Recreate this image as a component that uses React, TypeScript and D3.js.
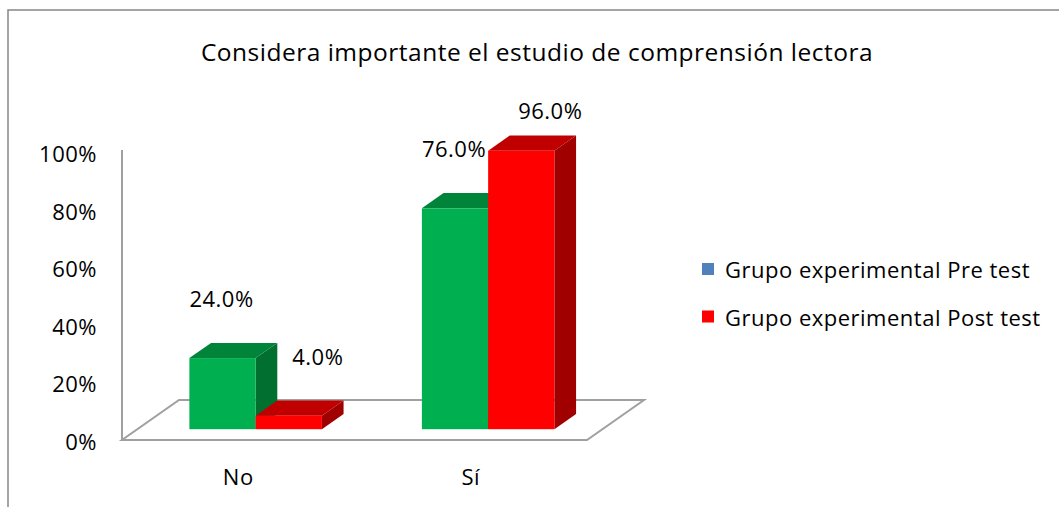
import React from 'react';
import * as d3 from 'd3';

// chart data
const categories = ['No', 'Sí'];
const seriesNames = ['Grupo experimental Pre test', 'Grupo experimental Post test'];
const preTest = [0.24, 0.76];
const postTest = [0.04, 0.96];
const yTicks = [0, 0.2, 0.4, 0.6, 0.8, 1];

const W = 1059;
const H = 507;
const FONT = '"Open Sans", "Noto Sans", sans-serif';
const LS = 0.5; // letter spacing to mimic the wider original font

// front plane of the 3D box
const plot = { left: 122, right: 587, bottom: 440, top: 152 };
const depth = { dx: 57, dy: -40 }; // full floor depth
const barFront = 0.27; // where the bars sit in depth
const barThick = 0.38;

// fills: [front, top, side]
const barColors = [
  ['#00B050', '#00843A', '#006F30'],
  ['#FF0000', '#C00000', '#A00000'],
];
const legendColors = ['#4F81BD', '#FF0000'];

const App = () => {
  const x = d3.scaleBand<string>().domain(categories).range([plot.left, plot.right]);
  const y = d3.scaleLinear().domain([0, 1]).range([plot.bottom, plot.top]);

  const series = [preTest, postTest];
  const groupW = x.bandwidth() * 0.57;
  const barW = groupW / series.length;
  const fx = depth.dx * barFront + 2;
  const fy = depth.dy * barFront;
  const tx = depth.dx * barThick;
  const ty = depth.dy * barThick;

  const floor = [
    [plot.left, plot.bottom],
    [plot.right, plot.bottom],
    [plot.right + depth.dx, plot.bottom + depth.dy],
    [plot.left + depth.dx, plot.bottom + depth.dy],
  ];

  const bars: React.ReactNode[] = [];
  const labels: React.ReactNode[] = [];
  categories.forEach((c, ci) => {
    series.forEach((vals, si) => {
      const v = vals[ci];
      const x0 = (x(c) as number) + (x.bandwidth() - groupW) / 2 + si * barW + fx;
      const x1 = x0 + barW;
      const yb = y(0) + fy;
      const yt = y(v) + fy - 2;
      const [front, top, side] = barColors[si];
      bars.push(
        <g key={`${c}-${si}`}>
          <polygon points={`${x1},${yb} ${x1 + tx},${yb + ty} ${x1 + tx},${yt + ty} ${x1},${yt}`} fill={side} />
          <polygon points={`${x0},${yt} ${x0 + tx},${yt + ty} ${x1 + tx},${yt + ty} ${x1},${yt}`} fill={top} />
          <rect x={x0} y={yt} width={barW} height={yb - yt} fill={front} />
        </g>
      );
      const lx = (x0 + x1) / 2 - 1 + si * 30;
      const ly = Math.max(yt - 60, 110);
      labels.push(
        <text key={`l-${c}-${si}`} x={lx} y={ly} textAnchor="middle" dominantBaseline="central"
          fontSize={22} letterSpacing={LS} fontFamily={FONT} fill="#000">
          {d3.format('.1%')(v)}
        </text>
      );
    });
  });

  return (
    <svg width={W} height={H} style={{ position: 'fixed', left: 0, top: 0, background: '#fff' }}>
      <rect x={0} y={0} width={W} height={H} fill="#fff" />
      <rect x={8} y={10} width={W + 10} height={H + 10} fill="none" stroke="#868686" strokeWidth={1.5} />

      <text x={537} y={51} textAnchor="middle" dominantBaseline="central" fontSize={24.5}
        letterSpacing={LS} fontFamily={FONT} fill="#000">
        Considera importante el estudio de comprensión lectora
      </text>

      {/* floor and wall */}
      <polygon points={floor.map(p => p.join(',')).join(' ')} fill="#fff" stroke="#A0A0A0" strokeWidth={2} />
      <line x1={plot.left} x2={plot.left} y1={y(1) - 2} y2={plot.bottom} stroke="#A0A0A0" strokeWidth={2} />

      {yTicks.map(t => (
        <text key={t} x={97} y={y(t) + 1} textAnchor="end" dominantBaseline="central" fontSize={22}
          letterSpacing={LS} fontFamily={FONT} fill="#000">
          {d3.format('.0%')(t)}
        </text>
      ))}

      {categories.map(c => (
        <text key={c} x={(x(c) as number) + x.bandwidth() / 2} y={476} textAnchor="middle"
          dominantBaseline="central" fontSize={22} letterSpacing={LS} fontFamily={FONT} fill="#000">
          {c}
        </text>
      ))}

      {bars}
      {labels}

      {seriesNames.map((s, i) => (
        <g key={s} transform={`translate(702,${269 + i * 47.5})`}>
          <rect x={0} y={-6} width={12} height={12} fill={legendColors[i]} />
          <text x={23} y={0} dominantBaseline="central" fontSize={22} letterSpacing={LS}
            fontFamily={FONT} fill="#000">{s}</text>
        </g>
      ))}
    </svg>
  );
};

export default App;
